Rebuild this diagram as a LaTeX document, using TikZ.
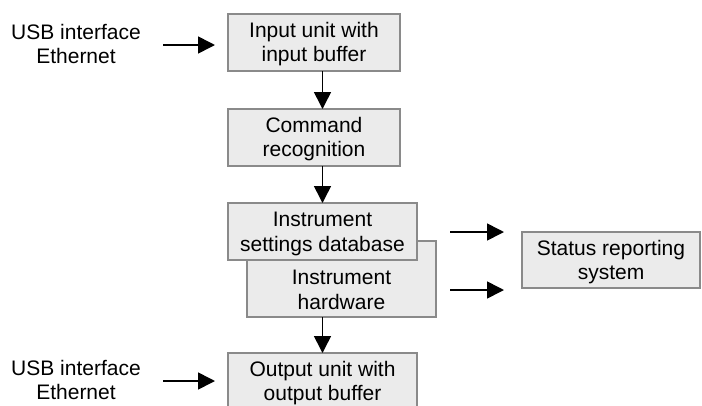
\documentclass[tikz,border=0pt]{standalone}
\usepackage{fontspec}
\setmainfont{Liberation Sans}
\usetikzlibrary{arrows.meta}
\definecolor{boxfill}{HTML}{EBEBEB}
\definecolor{boxline}{HTML}{8A8A8A}
\begin{document}
\begin{tikzpicture}[x=1pt,y=-1pt,
  blk/.style={draw=boxline,fill=boxfill,line width=1.2pt,inner sep=0pt,outer sep=0pt},
  lbl/.style={font=\fontsize{21}{24.5}\selectfont,align=center,inner sep=0pt},
  arr/.style={line width=1.6pt,-{Triangle[length=17pt,width=17pt]}}]
\useasboundingbox (0,0) rectangle (702,405);
\clip (0,0) rectangle (702,405);
% boxes
\node[blk,minimum width=172pt,minimum height=57pt] (input) at (314,42.5) {};
\node[lbl] at (314,44) {Input unit with\\input buffer};
\node[blk,minimum width=172pt,minimum height=57pt] (command) at (314,137.5) {};
\node[lbl] at (314,139) {Command\\recognition};
\node[blk,minimum width=189pt,minimum height=76pt] (hardware) at (341.5,279) {};
\node[lbl] at (341.5,290) {Instrument\\hardware};
\node[blk,minimum width=189pt,minimum height=57pt] (settings) at (322.5,231.5) {};
\node[lbl] at (322.5,234) {Instrument\\settings database};
\node[blk,minimum width=189pt,minimum height=60pt] (output) at (322.5,383) {};
\node[lbl] at (322.5,383) {Output unit with\\output buffer};
\node[blk,minimum width=178pt,minimum height=56pt] (status) at (611,260) {};
\node[lbl] at (611,262) {Status reporting\\system};
% left labels
\node[lbl] (usbin) at (76,44) {USB interface\\Ethernet};
\node[lbl] (usbout) at (76,380) {USB interface\\Ethernet};
% free ends
\coordinate (a1s) at (163,45);
\coordinate (a1e) at (215,45);
\coordinate (a2s) at (163,381);
\coordinate (a2e) at (215,381);
\coordinate (r1s) at (450,232);
\coordinate (r1e) at (504,232);
\coordinate (r2s) at (450,290);
\coordinate (r2e) at (504,290);
% arrows
\draw[arr] (a1s) -- (a1e);
\draw[arr] (a2s) -- (a2e);
\draw[arr] (input.south -| settings.north) -- (command.north -| settings.north);
\draw[arr] (command.south -| settings.north) -- (settings.north);
\draw[arr] (hardware.south -| settings.north) -- (output.north);
\draw[arr] (r1s) -- (r1e);
\draw[arr] (r2s) -- (r2e);
\end{tikzpicture}
\end{document}
